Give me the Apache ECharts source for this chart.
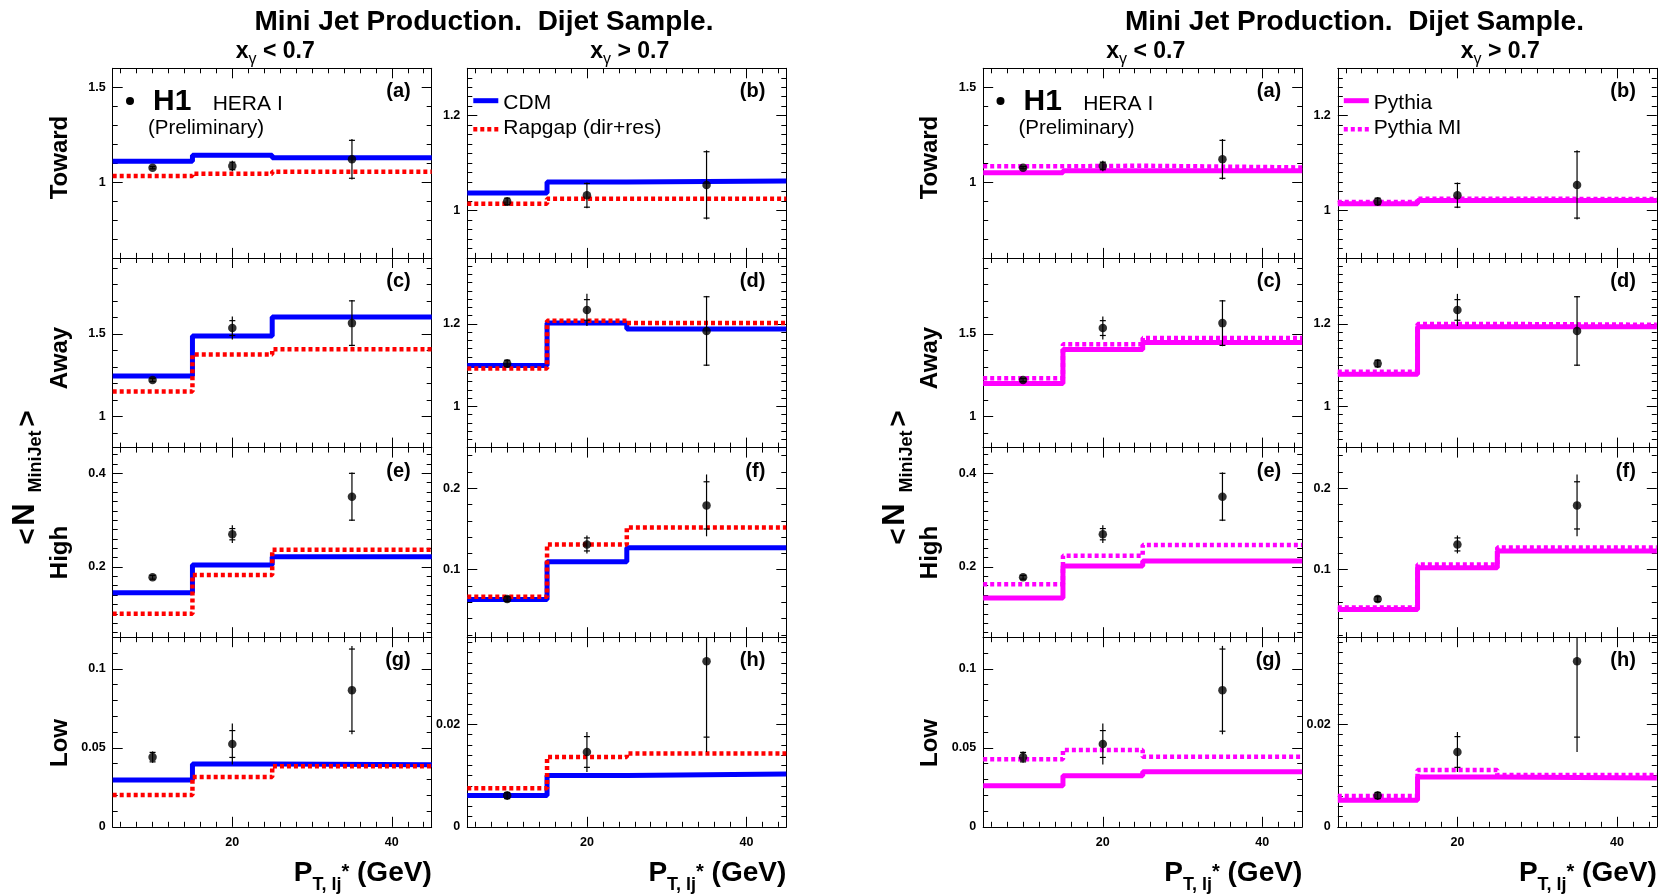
<!DOCTYPE html>
<html>
<head>
<meta charset="utf-8">
<script src="https://cdn.jsdelivr.net/npm/echarts@6/dist/echarts.min.js"></script>
<style>
html,body{margin:0;padding:0;background:#fff;overflow:hidden;}
#chart{width:1662px;height:895px;}
</style>
</head>
<body>
<div id="chart"></div>
<script>
// ---------------- DATA ----------------
const ptBinEdges = [5, 15, 25, 45];      // model histogram bin edges (GeV)
const ptPoints = [10, 20, 35];           // H1 data points (GeV)
const xTickLabels = [20, 40];

// (a) Toward, x_gamma < 0.7
const h1_a = [1.076, 1.085, 1.12];
const totErr_a = [0.008, 0.028, 0.107];
const statErr_a = [0.006, 0.02, 0.1];
const cdm_a = [1.110, 1.141, 1.128];
const rapgap_a = [1.032, 1.044, 1.055];
const pythia_a = [1.049, 1.060, 1.060];
const pythiaMI_a = [1.083, 1.086, 1.077];
// (b) Toward, x_gamma > 0.7
const h1_b = [1.019, 1.032, 1.054];
const totErr_b = [0.009, 0.027, 0.073];
const statErr_b = [0.007, 0.025, 0.07];
const cdm_b = [1.037, 1.060, 1.062];
const rapgap_b = [1.014, 1.025, 1.025];
const pythia_b = [1.014, 1.021, 1.021];
const pythiaMI_b = [1.018, 1.025, 1.024];
// (c) Away, x_gamma < 0.7
const h1_c = [1.22, 1.535, 1.565];
const totErr_c = [0.012, 0.07, 0.14];
const statErr_c = [0.01, 0.045, 0.135];
const cdm_c = [1.245, 1.487, 1.602];
const rapgap_c = [1.15, 1.374, 1.406];
const pythia_c = [1.199, 1.405, 1.447];
const pythiaMI_c = [1.231, 1.437, 1.475];
// (d) Away, x_gamma > 0.7
const h1_d = [1.104, 1.234, 1.183];
const totErr_d = [0.01, 0.039, 0.085];
const statErr_d = [0.008, 0.025, 0.083];
const cdm_d = [1.099, 1.202, 1.188];
const rapgap_d = [1.092, 1.208, 1.202];
const pythia_d = [1.078, 1.193, 1.193];
const pythiaMI_d = [1.084, 1.200, 1.198];
// (e) High, x_gamma < 0.7
const h1_e = [0.178, 0.270, 0.350];
const totErr_e = [0.005, 0.019, 0.052];
const statErr_e = [0.004, 0.012, 0.05];
const cdm_e = [0.145, 0.204, 0.222];
const rapgap_e = [0.100, 0.183, 0.237];
const pythia_e = [0.134, 0.202, 0.213];
const pythiaMI_e = [0.163, 0.224, 0.247];
// (f) High, x_gamma > 0.7
const h1_f = [0.0638, 0.131, 0.179];
const totErr_f = [0.004, 0.011, 0.038];
const statErr_f = [0.003, 0.008, 0.029];
const cdm_f = [0.0634, 0.1096, 0.1268];
const rapgap_f = [0.0666, 0.131, 0.1519];
const pythia_f = [0.0511, 0.1022, 0.123];
const pythiaMI_f = [0.0536, 0.1064, 0.1273];
// (g) Low, x_gamma < 0.7
const h1_g = [0.0441, 0.0524, 0.0865];
const totErr_g = [0.0036, 0.013, 0.028];
const statErr_g = [0.003, 0.0085, 0.026];
const cdm_g = [0.0296, 0.0397, 0.0393];
const rapgap_g = [0.0201, 0.0315, 0.0383];
const pythia_g = [0.026, 0.0323, 0.0349];
const pythiaMI_g = [0.0427, 0.0486, 0.0443];
// (h) Low, x_gamma > 0.7
const h1_h = [0.0061, 0.0146, 0.0323];
const totErr_h = [0.0008, 0.0039, 0.0177];
const statErr_h = [0.0006, 0.003, 0.0148];
const cdm_h = [0.0061, 0.0100, 0.0103];
const rapgap_h = [0.0075, 0.0136, 0.0143];
const pythia_h = [0.0052, 0.0097, 0.0095];
const pythiaMI_h = [0.0060, 0.0111, 0.0101];

// y-axis ranges and labelled ticks per panel
const yRange_a = [0.6, 1.6],    yTicks_a = [1, 1.5];
const yRange_b = [0.9, 1.3],    yTicks_b = [1, 1.2];
const yRange_c = [0.81, 1.96],  yTicks_c = [1, 1.5];
const yRange_d = [0.9, 1.36],   yTicks_d = [1, 1.2];
const yRange_e = [0.05, 0.455], yTicks_e = [0.2, 0.4];
const yRange_f = [0.017, 0.25], yTicks_f = [0.1, 0.2];
const yRange_g = [0, 0.12],     yTicks_g = [0, 0.05, 0.1];
const yRange_h = [0, 0.037],    yTicks_h = [0, 0.02];

const rowTitles = ['Toward', 'Away', 'High', 'Low'];
const colTitles = ['< 0.7', '> 0.7'];
const panelLetters = ['(a)', '(b)', '(c)', '(d)', '(e)', '(f)', '(g)', '(h)'];

// ---------------- LAYOUT ----------------
const FAMILY = '"Liberation Sans", Arial, Helvetica, sans-serif';
const X_MIN = 5, X_MAX = 45, X_MINOR = 2;
const COL_LEFT = [112.7, 467.3];
const PANEL_W = 319;
const ROW_TOP = [68.3, 258, 447.6, 637.2];
const PANEL_H = 189.6;
const HALF_DX = [0, 870.5];
const ROW_TITLE_Y = [157.5, 358, 552.5, 743];

const panels = [
  {row:0, col:0, range:yRange_a, ticks:yTicks_a, minor:0.1,   h1:h1_a, tot:totErr_a, stat:statErr_a, cdm:cdm_a, rapgap:rapgap_a, pythia:pythia_a, pythiaMI:pythiaMI_a},
  {row:0, col:1, range:yRange_b, ticks:yTicks_b, minor:0.02,  h1:h1_b, tot:totErr_b, stat:statErr_b, cdm:cdm_b, rapgap:rapgap_b, pythia:pythia_b, pythiaMI:pythiaMI_b},
  {row:1, col:0, range:yRange_c, ticks:yTicks_c, minor:0.1,   h1:h1_c, tot:totErr_c, stat:statErr_c, cdm:cdm_c, rapgap:rapgap_c, pythia:pythia_c, pythiaMI:pythiaMI_c},
  {row:1, col:1, range:yRange_d, ticks:yTicks_d, minor:0.02,  h1:h1_d, tot:totErr_d, stat:statErr_d, cdm:cdm_d, rapgap:rapgap_d, pythia:pythia_d, pythiaMI:pythiaMI_d},
  {row:2, col:0, range:yRange_e, ticks:yTicks_e, minor:0.02,  h1:h1_e, tot:totErr_e, stat:statErr_e, cdm:cdm_e, rapgap:rapgap_e, pythia:pythia_e, pythiaMI:pythiaMI_e},
  {row:2, col:1, range:yRange_f, ticks:yTicks_f, minor:0.02,  h1:h1_f, tot:totErr_f, stat:statErr_f, cdm:cdm_f, rapgap:rapgap_f, pythia:pythia_f, pythiaMI:pythiaMI_f},
  {row:3, col:0, range:yRange_g, ticks:yTicks_g, minor:0.01,  h1:h1_g, tot:totErr_g, stat:statErr_g, cdm:cdm_g, rapgap:rapgap_g, pythia:pythia_g, pythiaMI:pythiaMI_g},
  {row:3, col:1, range:yRange_h, ticks:yTicks_h, minor:0.002, h1:h1_h, tot:totErr_h, stat:statErr_h, cdm:cdm_h, rapgap:rapgap_h, pythia:pythia_h, pythiaMI:pythiaMI_h}
];

const halves = [
  {dx: HALF_DX[0], models: [
    {key:'cdm', color:'#0000ff', dotted:false, name:'CDM'},
    {key:'rapgap', color:'#ff0000', dotted:true, name:'Rapgap (dir+res)'}]},
  {dx: HALF_DX[1], models: [
    {key:'pythia', color:'#ff00ff', dotted:false, name:'Pythia'},
    {key:'pythiaMI', color:'#ff00ff', dotted:true, name:'Pythia MI'}]}
];

function minorTicks(min, max, step, exclude) {
  const out = [];
  const n0 = Math.ceil(min / step - 1e-7), n1 = Math.floor(max / step + 1e-7);
  for (let n = n0; n <= n1; n++) {
    const v = +(n * step).toFixed(6);
    if (!exclude.some(e => Math.abs(e - v) < 1e-9)) out.push(v);
  }
  return out;
}

function makeAxis(g, pos, min, max, ticks, major, labels, isY) {
  return {
    gridIndex: g, type: 'value', position: pos, min: min, max: max,
    axisLine: {show: major, onZero: false, lineStyle: {color: '#000', width: 1}},
    axisTick: {show: true, inside: true, length: major ? 10 : 5, customValues: ticks,
               lineStyle: {color: '#000', width: 1}},
    axisLabel: labels ? {show: true, customValues: ticks, color: '#000', fontFamily: FAMILY,
               fontWeight: 'bold', fontSize: 12.5, margin: isY ? 7 : 9} : {show: false},
    splitLine: {show: false}, splitArea: {show: false}, silent: true
  };
}

function stepData(vals) {
  const d = [];
  for (let i = 0; i < vals.length; i++) d.push([ptBinEdges[i], vals[i]]);
  d.push([ptBinEdges[ptBinEdges.length - 1], vals[vals.length - 1]]);
  return d;
}

function makeErrRender(p) {
  return function (params, api) {
    const x = api.value(0), v = api.value(1), tot = api.value(2), st = api.value(3);
    const lo = p.range[0], hi = p.range[1];
    const a = api.coord([x, Math.min(v + tot, hi)]);
    const b = api.coord([x, Math.max(v - tot, lo)]);
    const children = [{type: 'line', shape: {x1: a[0], y1: a[1], x2: b[0], y2: b[1]},
                       style: {stroke: '#000', lineWidth: 1.2}}];
    [v + st, v - st].forEach(s => {
      if (s <= hi && s >= lo) {
        const c = api.coord([x, s]);
        children.push({type: 'line', shape: {x1: c[0] - 3, y1: c[1], x2: c[0] + 3, y2: c[1]},
                       style: {stroke: '#000', lineWidth: 1.2}});
      }
    });
    return {type: 'group', children: children};
  };
}

const option = {animation: false, backgroundColor: '#fff', grid: [], xAxis: [], yAxis: [], series: [], graphic: []};

halves.forEach(half => {
  panels.forEach(p => {
    const g = option.grid.length;
    option.grid.push({left: COL_LEFT[p.col] + half.dx, top: ROW_TOP[p.row], width: PANEL_W, height: PANEL_H,
                      show: false, outerBoundsMode: 'none', containLabel: false});
    const xi = option.xAxis.length;
    const xMinor = minorTicks(X_MIN, X_MAX, X_MINOR, xTickLabels);
    option.xAxis.push(makeAxis(g, 'bottom', X_MIN, X_MAX, xTickLabels, true, p.row === 3, false));
    option.xAxis.push(makeAxis(g, 'bottom', X_MIN, X_MAX, xMinor, false, false, false));
    option.xAxis.push(makeAxis(g, 'top', X_MIN, X_MAX, xTickLabels, true, false, false));
    option.xAxis.push(makeAxis(g, 'top', X_MIN, X_MAX, xMinor, false, false, false));
    const yi = option.yAxis.length;
    const yMinor = minorTicks(p.range[0], p.range[1], p.minor, p.ticks);
    option.yAxis.push(makeAxis(g, 'left', p.range[0], p.range[1], p.ticks, true, true, true));
    option.yAxis.push(makeAxis(g, 'left', p.range[0], p.range[1], yMinor, false, false, true));
    option.yAxis.push(makeAxis(g, 'right', p.range[0], p.range[1], p.ticks, true, false, true));
    option.yAxis.push(makeAxis(g, 'right', p.range[0], p.range[1], yMinor, false, false, true));

    half.models.forEach((m, k) => {
      option.series.push({
        type: 'line', xAxisIndex: xi, yAxisIndex: yi, data: stepData(p[m.key]), step: 'end',
        symbol: 'none', silent: true, z: 3 + k,
        lineStyle: {color: m.color, width: m.dotted ? 4.5 : 5, type: m.dotted ? [4, 3] : 'solid', cap: 'butt'}
      });
    });
    option.series.push({
      type: 'custom', xAxisIndex: xi, yAxisIndex: yi, silent: true, z: 6,
      data: ptPoints.map((x, i) => [x, p.h1[i], p.tot[i], p.stat[i]]),
      renderItem: makeErrRender(p)
    });
    option.series.push({
      type: 'scatter', xAxisIndex: xi, yAxisIndex: yi, silent: true, z: 7,
      data: ptPoints.map((x, i) => [x, p.h1[i]]),
      symbol: 'circle', symbolSize: 8.5, itemStyle: {color: '#000'}
    });
  });
});

// ---------------- TEXT / LEGENDS ----------------
const mctx = document.createElement('canvas').getContext('2d');
function fontStr(size, weight) { return (weight || 'normal') + ' ' + size + 'px ' + FAMILY; }
function measure(t, f) { mctx.font = f; return mctx.measureText(t).width; }
function txt(x, y, text, font, align, rot) {
  const el = {type: 'text', x: x, y: y, silent: true, z: 100,
    style: {text: text, font: font, fill: '#000', align: align || 'left', verticalAlign: 'middle',
            textAlign: align || 'left', textVerticalAlign: 'middle'}};
  if (rot) el.rotation = rot;
  return el;
}
// baseline-anchored run of pieces
function run(pieces, x0, align, baseline) {
  const fonts = pieces.map(pc => fontStr(pc.size, pc.weight));
  const widths = pieces.map((pc, i) => measure(pc.t, fonts[i]));
  const W = widths.reduce((s, w) => s + w, 0);
  let x = align === 'center' ? x0 - W / 2 : (align === 'right' ? x0 - W : x0);
  pieces.forEach((pc, i) => {
    option.graphic.push(txt(x, baseline + (pc.dy || 0) - 0.35 * pc.size, pc.t, fonts[i], 'left'));
    x += widths[i];
  });
}

halves.forEach(half => {
  const dx = half.dx;
  // main title
  run([{t: 'Mini Jet Production.  Dijet Sample.', size: 28, weight: 'bold'}], 484 + dx, 'center', 31.7);
  // column titles
  [0, 1].forEach(c => {
    run([{t: 'x', size: 23, weight: 'bold'}, {t: '\u03b3', size: 16, weight: 'normal', dy: 5},
         {t: ' ' + colTitles[c], size: 23, weight: 'bold'}],
        COL_LEFT[c] + PANEL_W / 2 + dx + 3, 'center', 60);
  });
  // row titles (rotated)
  rowTitles.forEach((t, r) => {
    option.graphic.push(txt(60 + dx, ROW_TITLE_Y[r], t, fontStr(24, 'bold'), 'center', Math.PI / 2));
  });
  // global y title  < N_MiniJet >
  option.graphic.push(txt(28.5 + dx, 536.5, '<', fontStr(28, 'bold'), 'center', Math.PI / 2));
  option.graphic.push(txt(25 + dx, 514.5, 'N', fontStr(31, 'bold'), 'center', Math.PI / 2));
  option.graphic.push(txt(36.5 + dx, 461.5, 'MiniJet', fontStr(18, 'bold'), 'center', Math.PI / 2));
  option.graphic.push(txt(28.5 + dx, 418.5, '>', fontStr(28, 'bold'), 'center', Math.PI / 2));
  // x titles
  [0, 1].forEach(c => {
    run([{t: 'P', size: 28, weight: 'bold'}, {t: 'T, lj', size: 18, weight: 'bold', dy: 8},
         {t: '*', size: 20, weight: 'bold', dy: -4}, {t: ' (GeV)', size: 28, weight: 'bold'}],
        COL_LEFT[c] + PANEL_W + dx, 'right', 883);
  });
  // panel letters
  panels.forEach((p, i) => {
    option.graphic.push(txt(COL_LEFT[p.col] + PANEL_W - 21 + dx, ROW_TOP[p.row] + 23.5,
                            panelLetters[i], fontStr(20, 'bold'), 'right'));
  });
  // H1 legend (panel a)
  option.graphic.push({type: 'circle', silent: true, z: 100, shape: {cx: 130 + dx, cy: 101, r: 4}, style: {fill: '#000'}});
  run([{t: 'H1', size: 30, weight: 'bold'}], 153 + dx, 'left', 112.7);
  run([{t: 'HERA I', size: 21}], 212.7 + dx, 'left', 111.7);
  run([{t: '(Preliminary)', size: 20.5}], 148 + dx, 'left', 135.5);
  // model legend (panel b)
  const lx = COL_LEFT[1] + dx + 6;
  half.models.forEach((m, k) => {
    const ly = k === 0 ? 100.7 : 129.3;
    option.graphic.push({type: 'line', silent: true, z: 100,
      shape: {x1: lx, y1: ly, x2: lx + 25, y2: ly},
      style: {stroke: m.color, lineWidth: m.dotted ? 4.5 : 5, lineDash: m.dotted ? [4, 3] : null}});
    run([{t: m.name, size: 21}], lx + 30, 'left', k === 0 ? 110.7 : 135.5);
  });
});

const chart = echarts.init(document.getElementById('chart'), null, {renderer: 'canvas'});
chart.setOption(option);
</script>
</body>
</html>
